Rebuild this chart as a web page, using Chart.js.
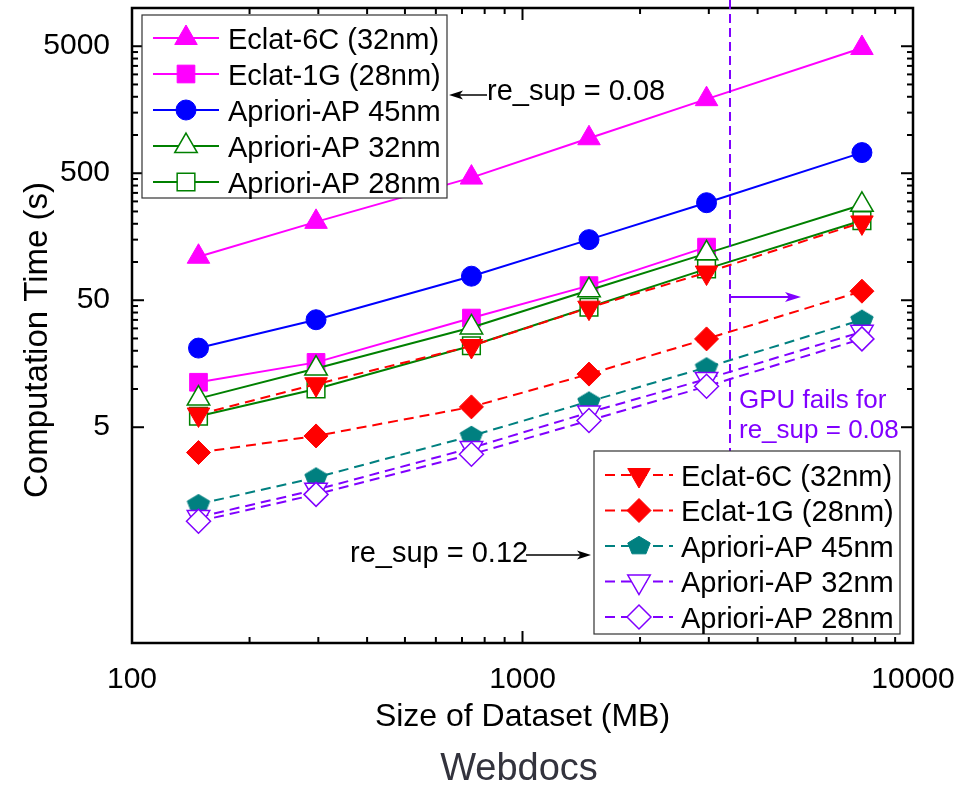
<!DOCTYPE html>
<html>
<head>
<meta charset="utf-8">
<script src="https://cdn.jsdelivr.net/npm/chart.js@4.4.1/dist/chart.umd.min.js"></script>
<style>
html,body{margin:0;padding:0;background:#ffffff;}
#wrap{width:960px;height:787px;position:relative;}
</style>
</head>
<body>
<div id="wrap"><canvas id="c" width="960" height="787"></canvas></div>
<script>
// ---------------- DATA ----------------
const datasetSizes = [148, 296, 740, 1480, 2960, 7400];   // Size of Dataset (MB)

// re_sup = 0.08 (solid lines)
const eclat6c_008 = [110, 207, 462, 943, 1915, 4840];
const eclat1g_008 = [11.3, 16.2, 36.2, 65.2, 131, null]; // GPU fails at largest size
const ap45_008    = [21.0, 35.1, 77.3, 150, 293, 727];
const ap32_008    = [8.4, 14.5, 30.5, 60, 117, 282];
const ap28_008    = [6.1, 10.0, 21.9, 44.0, 88.3, 212];

// re_sup = 0.12 (dashed lines)
const eclat6c_012 = [6.3, 10.9, 21.8, 43.7, 82.6, 205];
const eclat1g_012 = [3.16, 4.27, 7.23, 13.1, 24.8, 58.9];
const ap45_012    = [1.24, 2.01, 4.27, 7.97, 14.8, 35.1];
const ap32_012    = [0.98, 1.61, 3.43, 6.53, 12.0, 28.2];
const ap28_012    = [0.91, 1.48, 3.06, 5.65, 10.5, 24.8];

const seriesNames = ['Eclat-6C (32nm)', 'Eclat-1G (28nm)', 'Apriori-AP 45nm', 'Apriori-AP 32nm', 'Apriori-AP 28nm'];

// axis ticks
const xTickLabels = [100, 1000, 10000];
const xMinorTicks = [200, 300, 400, 500, 600, 700, 800, 900, 2000, 3000, 4000, 5000, 6000, 7000, 8000, 9000];
const yTickLabels = [5, 50, 500, 5000];
const yMinorTicks = [10, 15, 20, 25, 30, 35, 40, 45, 100, 150, 200, 250, 300, 350, 400, 450,
                     1000, 1500, 2000, 2500, 3000, 3500, 4000, 4500];

const gpuFailSize = 3400; // position of the "GPU fails" marker line (MB)

// ---------------- STYLE ----------------
const FONT = "'Liberation Sans', Arial, Helvetica, sans-serif";
Chart.defaults.font.family = FONT;
Chart.defaults.color = '#000';

function makePentagon(color) {
  const c = document.createElement('canvas');
  c.width = 28; c.height = 28;
  const g = c.getContext('2d');
  const R = 11.8, cx = 14, cy = 14;
  g.beginPath();
  for (let i = 0; i < 5; i++) {
    const a = -Math.PI / 2 + i * 2 * Math.PI / 5;
    const px = cx + R * Math.cos(a), py = cy + R * Math.sin(a) * 0.82;
    if (i === 0) g.moveTo(px, py); else g.lineTo(px, py);
  }
  g.closePath();
  g.fillStyle = color; g.fill();
  g.strokeStyle = color; g.lineWidth = 1; g.stroke();
  return c;
}
const pentagonTeal = makePentagon('#008080');

const DASH = [10, 6];
const seriesDefs = [
  {label: seriesNames[0], data: eclat6c_008, color: '#ff00ff', style: 'triangle', rot: 0, open: false, dash: [], r: 13, group: 1},
  {label: seriesNames[1], data: eclat1g_008, color: '#ff00ff', style: 'rect', rot: 0, open: false, dash: [], r: 12.5, group: 1},
  {label: seriesNames[2], data: ap45_008, color: '#0000ff', style: 'circle', rot: 0, open: false, dash: [], r: 10, group: 1},
  {label: seriesNames[3], data: ap32_008, color: '#008000', style: 'triangle', rot: 0, open: true, dash: [], r: 13, group: 1},
  {label: seriesNames[4], data: ap28_008, color: '#008000', style: 'rect', rot: 0, open: true, dash: [], r: 12.5, group: 1},
  {label: seriesNames[0], data: eclat6c_012, color: '#ff0000', style: 'triangle', rot: 180, open: false, dash: DASH, r: 13, group: 2},
  {label: seriesNames[1], data: eclat1g_012, color: '#ff0000', style: 'rectRot', rot: 0, open: false, dash: DASH, r: 12, group: 2},
  {label: seriesNames[2], data: ap45_012, color: '#008080', style: pentagonTeal, rot: 0, open: false, dash: DASH, r: 12, group: 2},
  {label: seriesNames[3], data: ap32_012, color: '#8000ff', style: 'triangle', rot: 180, open: true, dash: DASH, r: 13, group: 2},
  {label: seriesNames[4], data: ap28_012, color: '#8000ff', style: 'rectRot', rot: 0, open: true, dash: DASH, r: 12, group: 2},
];

const datasets = seriesDefs.map((s, i) => ({
  label: s.label,
  data: datasetSizes.map((x, j) => ({x: x, y: s.data[j]})),
  borderColor: s.color,
  backgroundColor: s.color,
  borderWidth: 2,
  borderDash: s.dash,
  pointStyle: s.style,
  pointRotation: s.rot,
  pointRadius: s.r,
  pointHoverRadius: s.r,
  pointBackgroundColor: s.open ? '#ffffff' : s.color,
  pointBorderColor: s.color,
  pointBorderWidth: s.open ? 1.5 : 1,
  fill: false,
  tension: 0,
  spanGaps: false,
  order: seriesDefs.length - i
}));

// ---------------- PLUGINS ----------------
function seg(ctx, x1, y1, x2, y2) { ctx.beginPath(); ctx.moveTo(x1, y1); ctx.lineTo(x2, y2); ctx.stroke(); }

const framePlugin = {
  id: 'frame',
  afterDatasetsDraw(chart) {
    const {ctx, chartArea: a, scales: {x, y}} = chart;
    ctx.save();
    ctx.strokeStyle = '#000';
    ctx.setLineDash([]);
    ctx.lineWidth = 2;
    const MAJ = 12, MIN = 6;
    xTickLabels.forEach(v => { const p = x.getPixelForValue(v); seg(ctx, p, a.bottom, p, a.bottom - MAJ); seg(ctx, p, a.top, p, a.top + MAJ); });
    xMinorTicks.forEach(v => { const p = x.getPixelForValue(v); seg(ctx, p, a.bottom, p, a.bottom - MIN); seg(ctx, p, a.top, p, a.top + MIN); });
    yTickLabels.forEach(v => { const p = y.getPixelForValue(v); seg(ctx, a.left, p, a.left + MAJ, p); seg(ctx, a.right, p, a.right - MAJ, p); });
    yMinorTicks.forEach(v => { const p = y.getPixelForValue(v); seg(ctx, a.left, p, a.left + MIN, p); seg(ctx, a.right, p, a.right - MIN, p); });
    ctx.lineWidth = 2.5;
    ctx.strokeRect(a.left, a.top, a.right - a.left, a.bottom - a.top);
    ctx.restore();
  }
};

function arrow(ctx, x1, y1, x2, y2, color, lw, headLen, headW) {
  const ang = Math.atan2(y2 - y1, x2 - x1);
  ctx.save();
  ctx.setLineDash([]);
  ctx.strokeStyle = color; ctx.fillStyle = color; ctx.lineWidth = lw;
  seg(ctx, x1, y1, x2 - Math.cos(ang) * headLen * 0.7, y2 - Math.sin(ang) * headLen * 0.7);
  ctx.translate(x2, y2); ctx.rotate(ang);
  ctx.beginPath(); ctx.moveTo(0, 0); ctx.lineTo(-headLen, -headW); ctx.lineTo(-headLen * 0.75, 0); ctx.lineTo(-headLen, headW); ctx.closePath(); ctx.fill();
  ctx.restore();
}

const annotationPlugin = {
  id: 'annot',
  afterDraw(chart) {
    const {ctx, scales: {x}} = chart;
    ctx.save();
    // GPU failure marker line
    const gx = Math.round(x.getPixelForValue(gpuFailSize));
    ctx.strokeStyle = '#8000ff'; ctx.lineWidth = 2; ctx.setLineDash([9, 5]);
    seg(ctx, gx, 0, gx, 452);
    ctx.setLineDash([]);
    arrow(ctx, gx, 297, 801, 297, '#8000ff', 2, 16, 5);
    ctx.fillStyle = '#8000ff';
    ctx.font = '26px ' + FONT;
    ctx.textAlign = 'left'; ctx.textBaseline = 'alphabetic';
    ctx.fillText('GPU fails for', gx + 9, 408);
    ctx.fillText('re_sup = 0.08', gx + 9, 438);
    // re_sup labels
    ctx.fillStyle = '#000';
    ctx.font = '29px ' + FONT;
    ctx.fillText('re_sup = 0.08', 487, 100);
    arrow(ctx, 487, 95, 449, 95, '#000', 1.5, 14, 4.5);
    ctx.fillText('re_sup = 0.12', 350, 562);
    arrow(ctx, 526, 555, 591, 555, '#000', 1.5, 14, 4.5);

    // y-axis title
    ctx.save();
    ctx.translate(47, 340);
    ctx.rotate(-Math.PI / 2);
    ctx.font = '33px ' + FONT;
    ctx.textAlign = 'center'; ctx.textBaseline = 'alphabetic';
    ctx.fillStyle = '#000';
    ctx.fillText('Computation Time (s)', 0, 0);
    ctx.restore();

    // chart caption
    ctx.font = '38px ' + FONT;
    ctx.textAlign = 'center'; ctx.textBaseline = 'alphabetic';
    ctx.fillStyle = '#33333d';
    ctx.fillText('Webdocs', 519, 780);
    ctx.restore();

    // legends
    drawLegend(ctx, 1, {x1: 142, y1: 15, x2: 447, y2: 198}, 38, 36, 153, 219, 186, 228);
    drawLegend(ctx, 2, {x1: 594, y1: 451, x2: 900, y2: 634}, 475, 35.5, 605, 673, 639, 681);
  }
};

function drawLegend(ctx, group, box, row0, step, lx1, lx2, mx, tx) {
  ctx.save();
  ctx.fillStyle = '#fff';
  ctx.fillRect(box.x1, box.y1, box.x2 - box.x1, box.y2 - box.y1);
  ctx.strokeStyle = '#333'; ctx.lineWidth = 1.2; ctx.setLineDash([]);
  ctx.strokeRect(box.x1, box.y1, box.x2 - box.x1, box.y2 - box.y1);
  const items = seriesDefs.filter(s => s.group === group);
  items.forEach((s, i) => {
    const yy = row0 + i * step;
    ctx.strokeStyle = s.color; ctx.lineWidth = 2; ctx.setLineDash(s.dash);
    seg(ctx, lx1, yy, lx2, yy);
    ctx.setLineDash([]);
    ctx.fillStyle = s.open ? '#fff' : s.color;
    ctx.strokeStyle = s.color;
    ctx.lineWidth = s.open ? 1.5 : 1;
    Chart.helpers.drawPoint(ctx, {pointStyle: s.style, rotation: s.rot, radius: s.r, borderWidth: ctx.lineWidth}, mx, yy);
    ctx.fillStyle = '#000';
    ctx.font = '29px ' + FONT;
    ctx.textAlign = 'left'; ctx.textBaseline = 'alphabetic';
    ctx.fillText(s.label, tx, yy + 10.5);
  });
  ctx.restore();
}

// ---------------- CHART ----------------
new Chart(document.getElementById('c'), {
  type: 'line',
  data: {datasets: datasets},
  options: {
    responsive: false,
    animation: false,
    devicePixelRatio: 1,
    layout: {autoPadding: false, padding: {top: 8, right: 47, left: 0, bottom: 0}},
    plugins: {
      legend: {display: false},
      tooltip: {enabled: false},
      title: {display: false}
    },
    scales: {
      x: {
        type: 'logarithmic', min: 100, max: 10000,
        grid: {display: false}, border: {display: false},
        afterBuildTicks: s => { s.ticks = xTickLabels.map(v => ({value: v})); },
        afterFit: s => { s.height = 144; s.paddingLeft = 0; s.paddingRight = 0; s.paddingTop = 0; s.paddingBottom = 0; },
        ticks: {autoSkip: false, maxRotation: 0, padding: 11, font: {size: 30}, color: '#000', callback: v => String(v)},
        title: {display: true, text: 'Size of Dataset (MB)', font: {size: 32, lineHeight: 1.2}, color: '#000', padding: {top: 0, bottom: 51}}
      },
      y: {
        type: 'logarithmic', min: 0.1, max: 10000,
        grid: {display: false}, border: {display: false},
        afterBuildTicks: s => { s.ticks = yTickLabels.map(v => ({value: v})); },
        afterFit: s => { s.width = 132; s.paddingLeft = 0; s.paddingRight = 0; s.paddingTop = 0; s.paddingBottom = 0; },
        ticks: {autoSkip: false, padding: 14, font: {size: 30}, color: '#000', callback: v => String(v)},
        title: {display: false}
      }
    }
  },
  plugins: [framePlugin, annotationPlugin]
});
</script>
</body>
</html>
